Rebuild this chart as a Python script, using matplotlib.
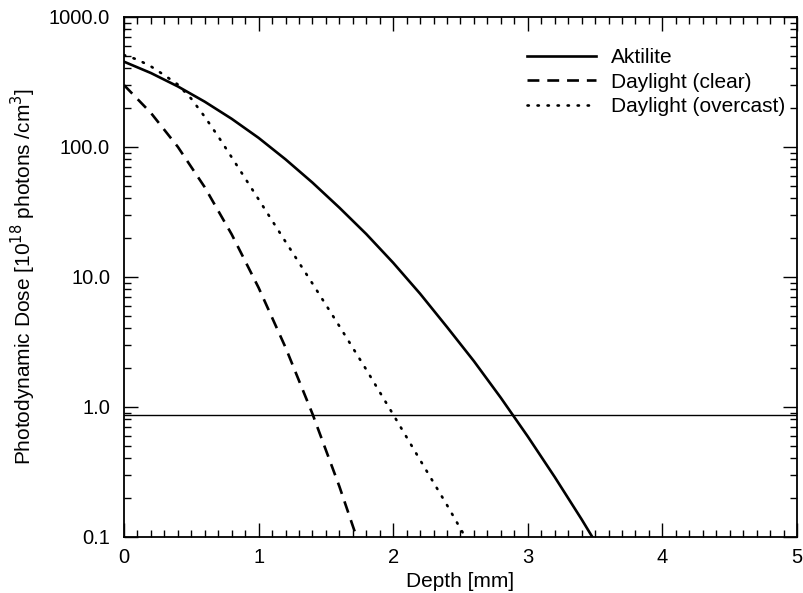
import matplotlib.pyplot as plt
from matplotlib.ticker import MultipleLocator, FixedLocator, LogLocator, NullFormatter

plt.rcParams['font.family'] = ['Liberation Sans', 'DejaVu Sans']

# Values (depth in mm, dose in 1e18 photons/cm^3)
aktilite_depth = [0.0, 0.2, 0.4, 0.6, 0.8, 1.0, 1.2, 1.4, 1.6, 1.8, 2.0, 2.2, 2.4, 2.6, 2.8, 3.0,
                  3.2, 3.4, 3.6]
aktilite_dose = [451, 369, 291, 222, 164, 117, 80, 53, 34, 21.3, 12.8, 7.4, 4.1, 2.24, 1.17, 0.59,
                 0.288, 0.136, 0.062]

clear_depth = [0.0, 0.2, 0.4, 0.6, 0.8, 1.0, 1.2, 1.4, 1.6, 1.8]
clear_dose = [298, 182, 99.8, 48.8, 21.2, 8.24, 2.86, 0.883, 0.244, 0.060]

overcast_depth = [0.0, 0.1, 0.2, 0.3, 0.4, 0.5, 0.6, 0.7, 0.8, 1.0, 1.2, 1.4, 1.6, 1.8, 2.0, 2.2,
                  2.4, 2.6]
overcast_dose = [507, 468, 415, 355, 301, 234, 170, 120, 83, 39.4, 18.6, 8.87, 4.17, 1.93, 0.871,
                 0.389, 0.175, 0.076]

threshold = 0.86

x_ticks = [0, 1, 2, 3, 4, 5]
y_ticks = [0.1, 1.0, 10.0, 100.0, 1000.0]
y_ticklabels = ['0.1', '1.0', '10.0', '100.0', '1000.0']

fig = plt.figure(figsize=(8.04, 5.93), dpi=100)
ax = fig.add_axes([0.1542, 0.0949, 0.8371, 0.8769])

ax.plot(aktilite_depth, aktilite_dose, color='black', lw=1.9, ls='-', label='Aktilite')
ax.plot(clear_depth, clear_dose, color='black', lw=1.9, ls=(0, (4.5, 3)), label='Daylight (clear)')
ax.plot(overcast_depth, overcast_dose, color='black', lw=1.9, ls=(0, (0.5, 3.3)),
        dash_capstyle='round', label='Daylight (overcast)')
ax.axhline(threshold, color='black', lw=1.0)

ax.set_yscale('log')
ax.set_xlim(0, 5)
ax.set_ylim(0.1, 1000)

ax.xaxis.set_major_locator(FixedLocator(x_ticks))
ax.xaxis.set_minor_locator(MultipleLocator(0.1))
ax.set_xticklabels([str(t) for t in x_ticks])
ax.yaxis.set_major_locator(FixedLocator(y_ticks))
ax.set_yticklabels(y_ticklabels)
ax.yaxis.set_minor_locator(LogLocator(base=10, subs=range(2, 10)))
ax.yaxis.set_minor_formatter(NullFormatter())

ax.tick_params(which='both', direction='in', top=True, right=True, labelsize=14.5, width=1.0)
ax.tick_params(which='major', length=10)
ax.tick_params(which='minor', length=5)
ax.tick_params(axis='x', which='major', pad=8)
ax.tick_params(axis='y', which='major', pad=10)
for s in ax.spines.values():
    s.set_linewidth(1.3)

ax.set_xlabel('Depth [mm]', fontsize=15, labelpad=4)
ax.set_ylabel(r'Photodynamic Dose [10$^{18}$ photons /cm$^{3}$]', fontsize=15, labelpad=8)

leg = ax.legend(loc='upper right', bbox_to_anchor=(1.007, 0.971), frameon=False, fontsize=15,
                handlelength=3.3, handletextpad=0.7, labelspacing=0.25, borderaxespad=0.4)

fig.savefig('out.png', dpi=100)
